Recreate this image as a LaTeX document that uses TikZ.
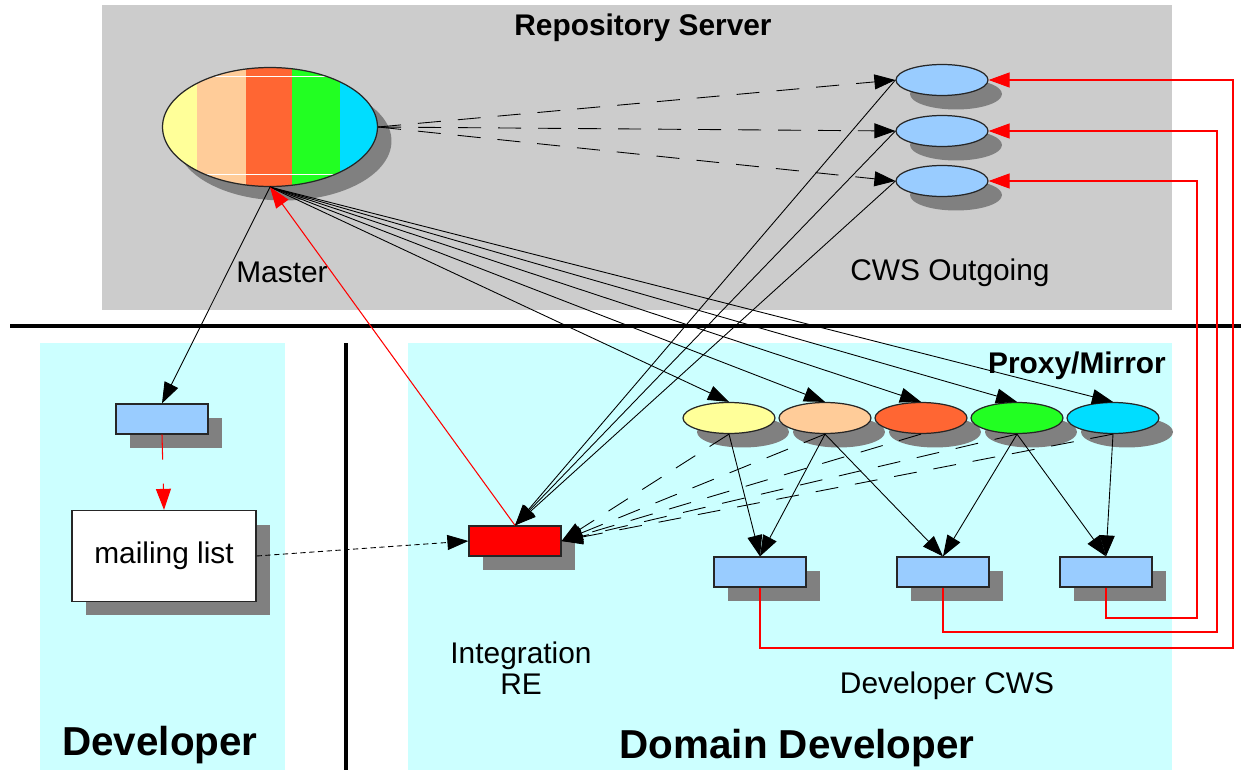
\documentclass[tikz,border=0pt]{standalone}
\usepackage{fontspec}
\setmainfont{Liberation Sans}
\usepackage{xcolor}
\usepackage{tikz}
\usetikzlibrary{shapes,arrows,positioning,calc,shadows,arrows.meta}

\definecolor{servergray}{HTML}{CCCCCC}
\definecolor{panelcyan}{HTML}{CCFFFF}
\definecolor{cwsblue}{HTML}{99CCFF}
\definecolor{shadowgray}{HTML}{808080}
\definecolor{vyellow}{HTML}{FFFF99}
\definecolor{vpeach}{HTML}{FFCC99}
\definecolor{vorange}{HTML}{FF6633}
\definecolor{vgreen}{HTML}{22FF22}
\definecolor{vcyan}{HTML}{00DDFF}

\tikzset{
  shade/.style={drop shadow={shadow xshift=0.28cm, shadow yshift=-0.28cm, fill=shadowgray, opacity=1}},
  repo/.style={ellipse, draw=black!85, line width=0.7pt, inner sep=0pt, minimum width=1.84cm, minimum height=0.62cm, shade},
  cwsbox/.style={rectangle, draw=black!85, line width=0.7pt, fill=cwsblue, inner sep=0pt, minimum width=1.84cm, minimum height=0.6cm, shade},
  arr/.style={-{Triangle[length=0.42cm, width=0.3cm]}, black, line width=0.5pt},
  redarr/.style={-{Triangle[length=0.42cm, width=0.3cm]}, red, line width=0.6pt},
  longdash/.style={dash pattern=on 0.46cm off 0.34cm},
  label/.style={font=\fontsize{17}{20}\selectfont},
  title/.style={font=\fontsize{17}{20}\selectfont\bfseries},
  big/.style={font=\fontsize{23}{27}\selectfont\bfseries}
}

\begin{document}
\begin{tikzpicture}[x=0.02cm, y=-0.02cm]
    \useasboundingbox (0,0) rectangle (1241,770);
    % Areas
    \fill[servergray] (102,5) rectangle (1172,310);
    \fill[panelcyan] (40,343) rectangle (285,770);
    \fill[panelcyan] (408,343) rectangle (1172,770);
    \draw[line width=2.8pt] (10,326) -- (1241,326);
    \draw[line width=2.8pt] (346,343) -- (346,770);

    % Repository server
    \node[title] (server) at (643,28) {Repository Server};
    \node[ellipse, draw=black!85, line width=0.7pt, inner sep=0pt, minimum width=4.3cm, minimum height=2.38cm, shade,
      path picture={
        \fill[vcyan] (path picture bounding box.south west) rectangle (path picture bounding box.north east);
        \fill[vgreen] (path picture bounding box.south west) rectangle ([xshift=3.56cm]path picture bounding box.north west);
        \fill[vorange] (path picture bounding box.south west) rectangle ([xshift=2.6cm]path picture bounding box.north west);
        \fill[vpeach] (path picture bounding box.south west) rectangle ([xshift=1.66cm]path picture bounding box.north west);
        \fill[vyellow] (path picture bounding box.south west) rectangle ([xshift=0.68cm]path picture bounding box.north west);
        \draw[white, line width=0.6pt] ([xshift=0.68cm, yshift=-0.18cm]path picture bounding box.north west) -- ++(2.88cm,0);
        \draw[white, line width=0.6pt] ([xshift=0.68cm, yshift=0.24cm]path picture bounding box.south west) -- ++(2.88cm,0);
      }] (master) at (270,127) {};
    \node[label] (masterlbl) at (282,272) {Master};
    \node[repo, fill=cwsblue] (out1) at (942,80) {};
    \node[repo, fill=cwsblue] (out2) at (942,131) {};
    \node[repo, fill=cwsblue] (out3) at (942,181) {};
    \node[label] (outlbl) at (950,273) {CWS Outgoing};

    % Developer
    \node[cwsbox] (devbox) at (162,419) {};
    \node[rectangle, draw=black!85, line width=0.7pt, fill=white, minimum width=3.68cm, minimum height=1.82cm, shade, label] (mailing) at (164,556) {mailing list};
    \node[big] (devlbl) at (160,745) {Developer};

    % Domain developer
    \node[title] (proxylbl) at (1077,366) {Proxy/Mirror};
    \foreach \n/\x/\c in {1/729/vyellow, 2/825/vpeach, 3/921/vorange, 4/1017/vgreen, 5/1113/vcyan}
      \node[repo, fill=\c] (p\n) at (\x,418) {};
    \node[cwsbox] (cws1) at (760,572) {};
    \node[cwsbox] (cws2) at (943,572) {};
    \node[cwsbox] (cws3) at (1106,572) {};
    \node[cwsbox, fill=red] (re) at (515,541) {};
    \node[label, align=center] (relbl) at (521,668) {Integration\\[-2pt]RE};
    \node[label] (cwslbl) at (947,686) {Developer CWS};
    \node[big] (domainlbl) at (797,748) {Domain Developer};

    % Connectors
    \foreach \n in {1,2,3} {
      \draw[arr, longdash] (master.east) -- (out\n.west);
      \draw[arr] (out\n.west) -- (re.north);
    }
    \foreach \n in {1,...,5} {
      \draw[arr] (master.south) -- (p\n.north);
      \draw[arr, longdash] (p\n.south) -- (re.east);
    }
    \draw[redarr] (re.north) -- (master.south);
    \draw[arr] (master.south) -- (devbox.north);
    \draw[redarr, dash pattern=on 0.5cm off 0.48cm] (devbox.south) -- (mailing.north);
    \draw[arr, densely dashed] (mailing.east) -- (re.west);

    \draw[arr] (p1.south) -- (cws1.north);
    \draw[arr] (p2.south) -- (cws1.north);
    \draw[arr] (p2.south) -- (cws2.north);
    \draw[arr] (p4.south) -- (cws2.north);
    \draw[arr] (p4.south) -- (cws3.north);
    \draw[arr] (p5.south) -- (cws3.north);

    % Red return paths
    \coordinate (loop1) at (1233,648);
    \coordinate (loop2) at (1217,632);
    \coordinate (loop3) at (1197,618);
    \draw[redarr] (cws1.south) |- (loop1) |- (out1.east);
    \draw[redarr] (cws2.south) |- (loop2) |- (out2.east);
    \draw[redarr] (cws3.south) |- (loop3) |- (out3.east);
\end{tikzpicture}
\end{document}
